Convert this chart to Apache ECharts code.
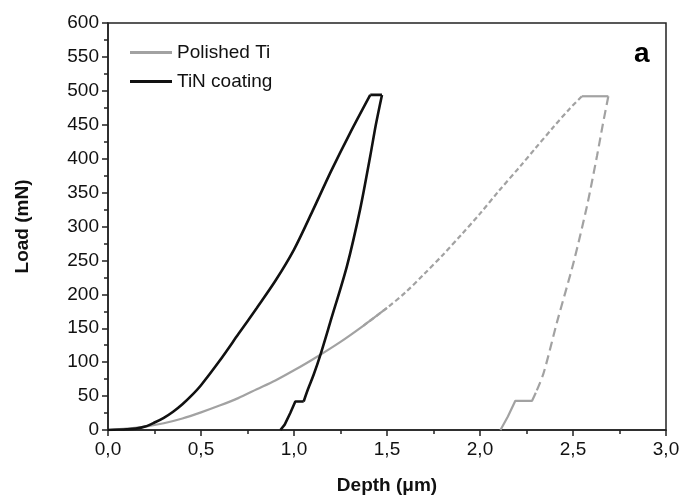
<!DOCTYPE html>
<html>
<head>
<meta charset="utf-8">
<script src="https://cdn.jsdelivr.net/npm/echarts@6/dist/echarts.min.js"></script>
<style>
  html, body { margin: 0; padding: 0; background: #fff; }
  #chart { width: 685px; height: 500px; }
</style>
</head>
<body>
<div id="chart"></div>
<script>
// depth (um), load (mN)
const tinLoading = [[0, 0], [0.1, 1], [0.15, 2], [0.2, 5], [0.25, 11], [0.3, 18], [0.35, 27], [0.4, 38],
  [0.45, 51], [0.5, 66], [0.6, 102], [0.7, 141], [0.8, 180], [0.9, 220], [1.0, 266], [1.1, 323],
  [1.2, 382], [1.3, 437], [1.41, 494]];
const tinHold = [[1.41, 494], [1.473, 494]];
const tinUnloading = [[1.473, 494], [1.44, 450], [1.41, 404], [1.356, 326], [1.285, 242], [1.195, 159],
  [1.141, 110], [1.105, 81], [1.075, 60], [1.052, 42]];
const tinUnloadingLow = [[1.052, 42], [1.007, 42], [0.98, 25], [0.95, 8], [0.927, 0]];

const tiLoadingLow = [[0, 0], [0.1, 2], [0.2, 5], [0.3, 10], [0.4, 17], [0.5, 26], [0.6, 36], [0.7, 47],
  [0.8, 60], [0.9, 73], [1.0, 88], [1.1, 104], [1.25, 130], [1.374, 154], [1.5, 180]];
const tiLoadingHigh = [[1.374, 154], [1.5, 180], [1.6, 203], [1.7, 230], [1.8, 258], [1.9, 288], [2.0, 319],
  [2.1, 352], [2.217, 389], [2.3, 416], [2.396, 447], [2.48, 473], [2.548, 492]];
const tiHold = [[2.548, 492], [2.69, 492]];
const tiUnloading = [[2.69, 492], [2.66, 450], [2.629, 404], [2.575, 330], [2.503, 247], [2.414, 159],
  [2.342, 84], [2.3, 55]];
const tiUnloadingLow = [[2.3, 55], [2.28, 43], [2.19, 43], [2.15, 20], [2.11, 0]];

const legendNames = ['Polished Ti', 'TiN coating'];

const font = 'Liberation Sans, Arial, sans-serif';
const grey = '#a2a2a2';
const black = '#111';

function lineSeries(name, data, color, width, type, smooth) {
  return {
    name: name,
    type: 'line',
    data: data,
    symbol: 'none',
    smooth: smooth || false,
    itemStyle: { color: color },
    lineStyle: { color: color, width: width, type: type || 'solid' },
    animation: false,
  };
}

const chart = echarts.init(document.getElementById('chart'));
const option = {
  backgroundColor: '#fff',
  grid: {
    left: 108,
    right: 19,
    top: 23,
    bottom: 68,
    show: true,
    borderColor: '#222',
    borderWidth: 1.5,
  },
  legend: {
    data: legendNames,
    orient: 'vertical',
    left: 125,
    top: 38,
    icon: 'rect',
    itemWidth: 42,
    itemHeight: 3,
    itemGap: 10,
    textStyle: { fontSize: 19, fontFamily: font, color: '#111' },
  },
  graphic: [{
    type: 'text',
    left: 634,
    top: 40,
    style: { text: 'a', font: 'bold 28px ' + font, fill: '#000' },
  }],
  xAxis: {
    type: 'value',
    min: 0,
    max: 3,
    interval: 0.5,
    name: 'Depth (\u03bcm)',
    nameLocation: 'middle',
    nameGap: 46,
    nameTextStyle: { fontSize: 19, fontWeight: 'bold', fontFamily: font, color: '#111' },
    axisLine: { show: true, lineStyle: { color: '#222', width: 1.5 } },
    axisTick: { show: true, length: 6, lineStyle: { color: '#222', width: 1.5 } },
    minorTick: { show: true, splitNumber: 2, length: 4, lineStyle: { color: '#222', width: 1.5 } },
    axisLabel: {
      fontSize: 19, fontFamily: font, color: '#111', margin: 10,
      formatter: function (v) { return v.toFixed(1).replace('.', ','); }
    },
    splitLine: { show: false },
  },
  yAxis: {
    type: 'value',
    min: 0,
    max: 600,
    interval: 50,
    name: 'Load (mN)',
    nameLocation: 'middle',
    nameGap: 76,
    nameTextStyle: { fontSize: 19, fontWeight: 'bold', fontFamily: font, color: '#111' },
    axisLine: { show: true, lineStyle: { color: '#222', width: 1.5 } },
    axisTick: { show: true, length: 6, lineStyle: { color: '#222', width: 1.5 } },
    minorTick: { show: true, splitNumber: 2, length: 4, lineStyle: { color: '#222', width: 1.5 } },
    axisLabel: { fontSize: 19, fontFamily: font, color: '#111', margin: 9 },
    splitLine: { show: false },
  },
  series: [
    lineSeries('Polished Ti', tiLoadingLow, grey, 2.2, 'solid', 0.3),
    lineSeries('Polished Ti', tiLoadingHigh, grey, 2.2, [5, 3], 0.3),
    lineSeries('Polished Ti', tiHold, grey, 2.2),
    lineSeries('Polished Ti', tiUnloading, grey, 2.2, [9, 5], 0.3),
    lineSeries('Polished Ti', tiUnloadingLow, grey, 2.2),
    lineSeries('TiN coating', tinLoading, black, 2.6, 'solid', 0.3),
    lineSeries('TiN coating', tinHold, black, 2.6),
    lineSeries('TiN coating', tinUnloading, black, 2.6, 'solid', 0.3),
    lineSeries('TiN coating', tinUnloadingLow, black, 2.6),
  ],
};
chart.setOption(option);
</script>
</body>
</html>
